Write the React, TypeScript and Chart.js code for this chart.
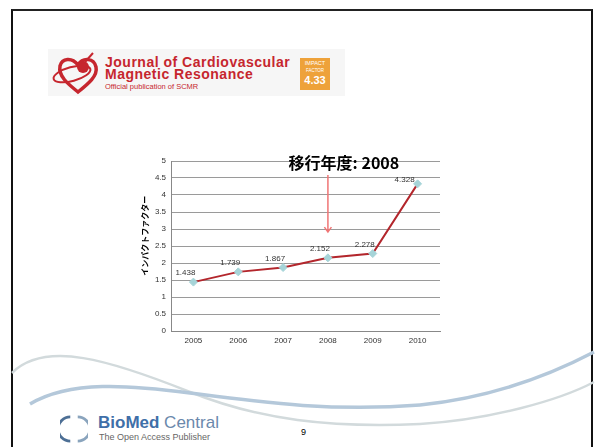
import React, { useEffect, useRef } from "react";
import { Chart, registerables } from "chart.js";

Chart.register(...registerables);

const years = ["2005", "2006", "2007", "2008", "2009", "2010"];
const impactFactor = [1.438, 1.739, 1.867, 2.152, 2.278, 4.328];
const yAxisTitle = "インパクトファクター";
const transitionLabel = "移行年度: 2008";
const transitionYear = "2008";
const yMin = 0;
const yMax = 5;
const yStep = 0.5;

const valueLabelPlugin = {
  id: "valueLabels",
  afterDatasetsDraw(chart: any) {
    const ctx = chart.ctx;
    const meta = chart.getDatasetMeta(0);
    ctx.save();
    ctx.font = '8px "Liberation Sans", Arial, sans-serif';
    ctx.fillStyle = "#333";
    ctx.textAlign = "center";
    ctx.textBaseline = "middle";
    meta.data.forEach((pt: any, i: number) => {
      const v = impactFactor[i];
      const last = i === meta.data.length - 1;
      const dx = last ? -13 : -8;
      const dy = last ? -4 : -9;
      ctx.fillText(v.toFixed(3), pt.x + dx, pt.y + dy);
    });
    ctx.restore();
  },
};

const annotationPlugin = {
  id: "transitionAnnotation",
  afterDraw(chart: any) {
    const ctx = chart.ctx;
    const xs = chart.scales.x;
    const ys = chart.scales.y;
    const idx = years.indexOf(transitionYear);
    const x = xs.getPixelForValue(idx);
    const yTop = ys.getPixelForValue(4.59);
    const yBot = ys.getPixelForValue(2.91);
    ctx.save();
    ctx.strokeStyle = "#f07575";
    ctx.lineWidth = 1.5;
    ctx.beginPath();
    ctx.moveTo(x, yTop);
    ctx.lineTo(x, yBot);
    ctx.moveTo(x - 3.5, yBot - 5);
    ctx.lineTo(x, yBot);
    ctx.lineTo(x + 3.5, yBot - 5);
    ctx.stroke();
    ctx.font = 'bold 16px "Noto Sans CJK JP", sans-serif';
    ctx.fillStyle = "#000";
    ctx.textAlign = "center";
    ctx.textBaseline = "middle";
    ctx.fillText(transitionLabel, x + 16, ys.getPixelForValue(4.95));

    // y-axis title
    ctx.translate(chart.chartArea.left - 26, ys.getPixelForValue(2.8));
    ctx.rotate(-Math.PI / 2);
    ctx.font = 'bold 8px "Noto Sans CJK JP", sans-serif';
    ctx.fillText(yAxisTitle, 0, 0);
    ctx.restore();
  },
};

function ImpactChart() {
  const ref = useRef<HTMLCanvasElement | null>(null);
  useEffect(() => {
    if (!ref.current) return;
    const chart = new Chart(ref.current, {
      type: "line",
      data: {
        labels: years,
        datasets: [
          {
            data: impactFactor,
            borderColor: "#b3262c",
            borderWidth: 2,
            tension: 0,
            pointStyle: "rectRot",
            pointRadius: 4,
            pointBackgroundColor: "#a6d4d8",
            pointBorderColor: "#a6d4d8",
            pointBorderWidth: 1,
          },
        ],
      },
      options: {
        responsive: false,
        devicePixelRatio: 1,
        animation: false,
        layout: { padding: { top: 11, right: 6, left: 0, bottom: 0 } },
        plugins: {
          legend: { display: false },
          tooltip: { enabled: false },
        },
        scales: {
          x: {
            offset: true,
            grid: { display: false, drawTicks: false },
            border: { color: "#888", width: 1 },
            ticks: {
              padding: 5,
              color: "#333",
              font: { size: 8, family: '"Liberation Sans", Arial, sans-serif' },
              maxRotation: 0,
            },
            afterFit: (s: any) => {
              s.height = 19;
            },
          },
          y: {
            min: yMin,
            max: yMax,
            ticks: {
              stepSize: yStep,
              padding: 5,
              color: "#333",
              font: { size: 8, family: '"Liberation Sans", Arial, sans-serif' },
              callback: (v: any) => String(Number(v)),
            },
            grid: { color: "#9a9a9a", drawTicks: false, lineWidth: 1 },
            border: { color: "#888", width: 1 },
            afterFit: (s: any) => {
              s.width = 37;
            },
          },
        },
      },
      plugins: [valueLabelPlugin, annotationPlugin],
    } as any);
    return () => chart.destroy();
  }, []);
  return (
    <canvas
      ref={ref}
      width={312}
      height={200}
      style={{ position: "absolute", left: 134, top: 150, width: 312, height: 200 }}
    />
  );
}

function JournalLogo() {
  const red = "#c6262e";
  return (
    <div style={{ position: "absolute", left: 48, top: 49, width: 297, height: 47, background: "#f6f6f6" }}>
      <svg width="56" height="44" style={{ position: "absolute", left: 2, top: 3 }} viewBox="0 0 56 44">
        <path
          d="M28 40 C18 32, 8 24, 10 14 C12 6, 22 5, 28 13 C33 5, 44 6, 46 15 C48 24, 38 32, 28 40 Z"
          fill="none"
          stroke={red}
          strokeWidth="3.5"
        />
        <ellipse cx="22" cy="22" rx="19" ry="7" fill="none" stroke={red} strokeWidth="2" transform="rotate(-15 22 22)" />
        <circle cx="33" cy="15" r="6" fill={red} />
        <line x1="35" y1="10" x2="43" y2="1" stroke={red} strokeWidth="2" />
      </svg>
      <div
        style={{
          position: "absolute",
          left: 57,
          top: 7,
          color: red,
          fontFamily: '"Liberation Sans", Arial, sans-serif',
          fontWeight: "bold",
          fontSize: 14,
          letterSpacing: 0.5,
          lineHeight: "12px",
          whiteSpace: "nowrap",
        }}
      >
        <div>Journal of Cardiovascular</div>
        <div>Magnetic Resonance</div>
      </div>
      <div
        style={{
          position: "absolute",
          left: 57,
          top: 33,
          color: red,
          fontFamily: '"Liberation Sans", Arial, sans-serif',
          fontSize: 7.5,
          whiteSpace: "nowrap",
        }}
      >
        Official publication of SCMR
      </div>
      <div
        style={{
          position: "absolute",
          left: 252,
          top: 9,
          width: 30,
          height: 32,
          background: "#eea23a",
          color: "#fff",
          fontFamily: '"Liberation Sans", Arial, sans-serif',
          textAlign: "center",
          lineHeight: 1,
        }}
      >
        <div style={{ fontSize: 5.5, marginTop: 3 }}>IMPACT</div>
        <div style={{ fontSize: 4.5, marginTop: 2 }}>FACTOR</div>
        <div style={{ fontSize: 11, fontWeight: "bold", marginTop: 2 }}>4.33</div>
      </div>
    </div>
  );
}

function Footer() {
  return (
    <>
      <svg width="598" height="447" style={{ position: "absolute", left: 0, top: 0 }}>
        <path
          d="M12 373 C45 340, 110 360, 190 392 C260 420, 330 428, 420 424 C490 420, 560 400, 594 382"
          fill="none"
          stroke="#d2dadc"
          strokeWidth="2.5"
        />
        <path
          d="M30 404 C70 380, 130 385, 190 393 C260 402, 330 412, 420 405 C490 398, 550 375, 594 352"
          fill="none"
          stroke="#b4c8da"
          strokeWidth="3.5"
        />
      </svg>
      <svg width="28" height="28" style={{ position: "absolute", left: 60, top: 415 }} viewBox="0 0 30 30">
        <path d="M11 2 A13 13 0 0 0 11 28" fill="none" stroke="#4d6f95" strokeWidth="3" />
        <path d="M19 2 A13 13 0 0 1 19 28" fill="none" stroke="#8aa4bd" strokeWidth="3" />
      </svg>
      <div
        style={{
          position: "absolute",
          left: 98,
          top: 414,
          fontFamily: '"Liberation Sans", Arial, sans-serif',
          fontSize: 17,
          lineHeight: "18px",
          whiteSpace: "nowrap",
        }}
      >
        <span style={{ fontWeight: "bold", color: "#3f6fa8" }}>BioMed</span>
        <span style={{ color: "#6a88ac" }}> Central</span>
      </div>
      <div
        style={{
          position: "absolute",
          left: 99,
          top: 432,
          fontFamily: '"Liberation Sans", Arial, sans-serif',
          fontSize: 9,
          color: "#666",
          whiteSpace: "nowrap",
        }}
      >
        The Open Access Publisher
      </div>
      <div
        style={{
          position: "absolute",
          left: 301,
          top: 427,
          fontFamily: '"Liberation Sans", Arial, sans-serif',
          fontSize: 9,
          color: "#000",
        }}
      >
        9
      </div>
    </>
  );
}

export default function App() {
  return (
    <div style={{ position: "absolute", left: 0, top: 0, width: 598, height: 447, overflow: "hidden", background: "#fff" }}>
      <div
        style={{
          position: "absolute",
          left: 11,
          top: 9,
          width: 582,
          height: 460,
          borderLeft: "2px solid #111",
          borderTop: "2px solid #222",
          borderRight: "2px solid #111",
          boxSizing: "border-box",
        }}
      />
      <JournalLogo />
      <Footer />
      <ImpactChart />
    </div>
  );
}
